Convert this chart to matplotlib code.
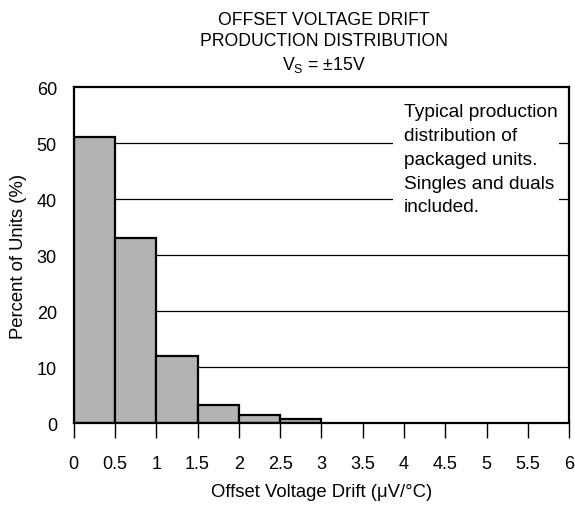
import matplotlib.pyplot as plt
from matplotlib.patches import Rectangle
import numpy as np

plt.rcParams['font.family'] = ['Liberation Sans', 'DejaVu Sans']

# bins de deriva (uV/C) e percentual de unidades
bin_left = [0.0, 0.5, 1.0, 1.5, 2.0, 2.5]
bin_width = 0.5
percent = [51, 33, 12, 3.3, 1.5, 0.75]

x_ticks = np.arange(0, 6.01, 0.5)
x_labels = ['0', '0.5', '1', '1.5', '2', '2.5', '3', '3.5', '4', '4.5', '5', '5.5', '6']
y_ticks = [0, 10, 20, 30, 40, 50, 60]

fig = plt.figure(figsize=(5.75, 5.06), dpi=100)
ax = fig.add_axes([0.128, 0.162, 0.862, 0.664])

# linhas de grade horizontais (atrás das barras)
for y in y_ticks[1:-1]:
    ax.axhline(y, color='black', linewidth=0.9, zorder=1)

ax.bar(bin_left, percent, width=bin_width, align='edge',
       color='#b3b3b3', edgecolor='black', linewidth=1.6, zorder=2)

ax.set_xlim(0, 6)
ax.set_ylim(0, 60)
ax.set_xticks(x_ticks)
ax.set_xticklabels(x_labels)
ax.set_yticks(y_ticks)
ax.tick_params(axis='x', direction='out', length=11, width=1.0, labelsize=13, pad=12)
ax.tick_params(axis='y', length=0, labelsize=13, pad=12)
for s in ax.spines.values():
    s.set_linewidth(1.6)
    s.set_zorder(3)

ax.set_xlabel('Offset Voltage Drift (\u03bcV/\u00b0C)', fontsize=13.3, labelpad=8)
ax.set_ylabel('Percent of Units (%)', fontsize=13.3, labelpad=7)

fig.text(0.563, 0.960, 'OFFSET VOLTAGE DRIFT', ha='center', va='center', fontsize=12.7)
fig.text(0.563, 0.917, 'PRODUCTION DISTRIBUTION', ha='center', va='center', fontsize=12.7)
fig.text(0.563, 0.872, r'V$_\mathregular{S}$ = $\mathregular{\pm}$15V', ha='center', va='center', fontsize=12.7)

# fundo branco da caixa de texto (interrompe a grade)
ax.add_patch(Rectangle((3.87, 33), 2.0, 25.5, facecolor='white', edgecolor='none', zorder=3))
ax.text(4.0, 57.1, 'Typical production\ndistribution of\npackaged units.\nSingles and duals\nincluded.',
        ha='left', va='top', fontsize=13.8, linespacing=1.52, zorder=4)

plt.savefig('out.png', dpi=100)
